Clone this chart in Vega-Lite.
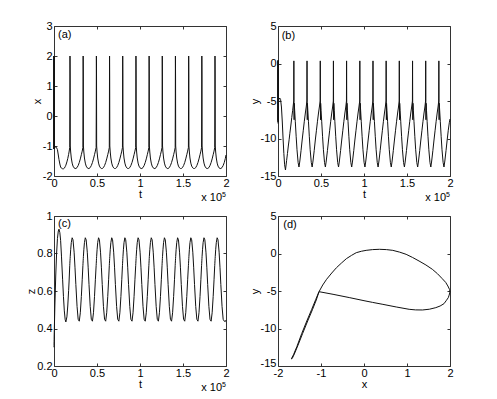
{
"$schema":"https://vega.github.io/schema/vega-lite/v6.json",
"padding":{"left":25,"top":19,"right":0,"bottom":0},
"background":"white",
"config":{
 "font":"Liberation Sans",
 "view":{"stroke":"#333","strokeWidth":1},
 "axis":{"grid":false,"domain":false,"ticks":true,"tickSize":-3,"tickColor":"#333","tickWidth":1,"labelPadding":5,"labelFontSize":11,"labelColor":"#000","labelFont":"Liberation Sans","titleFont":"Liberation Sans","titleFontSize":11,"titleFontWeight":"normal","titleColor":"#000","titlePadding":3,"labelFlush":false,"labelOverlap":false},
 "axisX":{"labelPadding":4,"titlePadding":0},
 "axisY":{"titlePadding":0},
 "text":{"font":"Liberation Sans","fontSize":11,"color":"#000"}
},
"datasets":{
"ts":[
{"t":0,"x":-1.1,"y":-8,"z":0.3},
{"t":0.0005,"x":2,"y":0.4,"z":0.31},
{"t":0.001,"x":-1.1,"y":-7.8,"z":0.33},
{"t":0.0015,"x":2,"y":0.4,"z":0.34},
{"t":0.002,"x":-1.1,"y":-7.6,"z":0.36},
{"t":0.0025,"x":2,"y":0.4,"z":0.37},
{"t":0.003,"x":-1.1,"y":-7.5,"z":0.38},
{"t":0.0035,"x":2,"y":0.3,"z":0.39},
{"t":0.004,"x":-1.05,"y":-5.5,"z":0.4},
{"t":0.006,"x":-1.05,"y":-5,"z":0.44},
{"t":0.01,"x":-1.05,"y":-4.8,"z":0.52},
{"t":0.02,"x":-1.03,"y":-4.6,"z":0.68},
{"t":0.03,"x":-1.06,"y":-4.8,"z":0.8},
{"t":0.04,"x":-1.12,"y":-5.8,"z":0.88},
{"t":0.05,"x":-1.3,"y":-7.8,"z":0.92},
{"t":0.058,"x":-1.45,"y":-9.8,"z":0.93},
{"t":0.068,"x":-1.6,"y":-12,"z":0.911},
{"t":0.077,"x":-1.7,"y":-13.5,"z":0.87},
{"t":0.087,"x":-1.74,"y":-14.2,"z":0.786},
{"t":0.1,"x":-1.76,"y":-12.95,"z":0.663},
{"t":0.11,"x":-1.76,"y":-12,"z":0.57},
{"t":0.12,"x":-1.74,"y":-11,"z":0.494},
{"t":0.13,"x":-1.69,"y":-10.1,"z":0.447},
{"t":0.138,"x":-1.64,"y":-9.3,"z":0.435},
{"t":0.15,"x":-1.53,"y":-8.2,"z":0.462},
{"t":0.16,"x":-1.42,"y":-7.2,"z":0.52},
{"t":0.17,"x":-1.28,"y":-6.3,"z":0.602},
{"t":0.175,"x":-1.2,"y":-5.8,"z":0.648},
{"t":0.183,"x":-1.05,"y":-5,"z":0.735},
{"t":0.1845,"x":0.3,"y":0.35,"z":0.748},
{"t":0.186,"x":2,"y":-5,"z":0.761},
{"t":0.1875,"x":1.3,"y":-7.5,"z":0.773},
{"t":0.189,"x":-1,"y":-5.3,"z":0.785},
{"t":0.194,"x":-1.2,"y":-6.3,"z":0.82},
{"t":0.201,"x":-1.4,"y":-7.7,"z":0.858},
{"t":0.211,"x":-1.57,"y":-9.7,"z":0.884},
{"t":0.221,"x":-1.67,"y":-11.5,"z":0.873},
{"t":0.234,"x":-1.73,"y":-13.2,"z":0.807},
{"t":0.244,"x":-1.75,"y":-13.8,"z":0.727},
{"t":0.254,"x":-1.75,"y":-13,"z":0.635},
{"t":0.268,"x":-1.72,"y":-11.6,"z":0.518},
{"t":0.281,"x":-1.65,"y":-10.2,"z":0.449},
{"t":0.294,"x":-1.55,"y":-8.9,"z":0.439},
{"t":0.306,"x":-1.43,"y":-7.7,"z":0.484},
{"t":0.318,"x":-1.29,"y":-6.6,"z":0.571},
{"t":0.328,"x":-1.17,"y":-5.8,"z":0.66},
{"t":0.336,"x":-1.05,"y":-5,"z":0.735},
{"t":0.3375,"x":0.3,"y":0.35,"z":0.748},
{"t":0.339,"x":2,"y":-5,"z":0.761},
{"t":0.3405,"x":1.3,"y":-7.5,"z":0.773},
{"t":0.342,"x":-1,"y":-5.3,"z":0.785},
{"t":0.347,"x":-1.2,"y":-6.3,"z":0.82},
{"t":0.354,"x":-1.4,"y":-7.7,"z":0.858},
{"t":0.364,"x":-1.57,"y":-9.7,"z":0.884},
{"t":0.374,"x":-1.67,"y":-11.5,"z":0.873},
{"t":0.387,"x":-1.73,"y":-13.2,"z":0.807},
{"t":0.397,"x":-1.75,"y":-13.8,"z":0.727},
{"t":0.407,"x":-1.75,"y":-13,"z":0.635},
{"t":0.421,"x":-1.72,"y":-11.6,"z":0.518},
{"t":0.434,"x":-1.65,"y":-10.2,"z":0.449},
{"t":0.447,"x":-1.55,"y":-8.9,"z":0.439},
{"t":0.459,"x":-1.43,"y":-7.7,"z":0.484},
{"t":0.471,"x":-1.29,"y":-6.6,"z":0.571},
{"t":0.481,"x":-1.17,"y":-5.8,"z":0.66},
{"t":0.49,"x":-1.05,"y":-5,"z":0.735},
{"t":0.4915,"x":0.3,"y":0.35,"z":0.748},
{"t":0.493,"x":2,"y":-5,"z":0.761},
{"t":0.4945,"x":1.3,"y":-7.5,"z":0.773},
{"t":0.496,"x":-1,"y":-5.3,"z":0.785},
{"t":0.501,"x":-1.2,"y":-6.3,"z":0.82},
{"t":0.508,"x":-1.4,"y":-7.7,"z":0.858},
{"t":0.518,"x":-1.57,"y":-9.7,"z":0.884},
{"t":0.528,"x":-1.67,"y":-11.5,"z":0.873},
{"t":0.541,"x":-1.73,"y":-13.2,"z":0.807},
{"t":0.551,"x":-1.75,"y":-13.8,"z":0.727},
{"t":0.561,"x":-1.75,"y":-13,"z":0.635},
{"t":0.575,"x":-1.72,"y":-11.6,"z":0.518},
{"t":0.588,"x":-1.65,"y":-10.2,"z":0.449},
{"t":0.601,"x":-1.55,"y":-8.9,"z":0.439},
{"t":0.613,"x":-1.43,"y":-7.7,"z":0.484},
{"t":0.625,"x":-1.29,"y":-6.6,"z":0.571},
{"t":0.635,"x":-1.17,"y":-5.8,"z":0.66},
{"t":0.643,"x":-1.05,"y":-5,"z":0.735},
{"t":0.6445,"x":0.3,"y":0.35,"z":0.748},
{"t":0.646,"x":2,"y":-5,"z":0.761},
{"t":0.6475,"x":1.3,"y":-7.5,"z":0.773},
{"t":0.649,"x":-1,"y":-5.3,"z":0.785},
{"t":0.654,"x":-1.2,"y":-6.3,"z":0.82},
{"t":0.661,"x":-1.4,"y":-7.7,"z":0.858},
{"t":0.671,"x":-1.57,"y":-9.7,"z":0.884},
{"t":0.681,"x":-1.67,"y":-11.5,"z":0.873},
{"t":0.694,"x":-1.73,"y":-13.2,"z":0.807},
{"t":0.704,"x":-1.75,"y":-13.8,"z":0.727},
{"t":0.714,"x":-1.75,"y":-13,"z":0.635},
{"t":0.728,"x":-1.72,"y":-11.6,"z":0.518},
{"t":0.741,"x":-1.65,"y":-10.2,"z":0.449},
{"t":0.754,"x":-1.55,"y":-8.9,"z":0.439},
{"t":0.766,"x":-1.43,"y":-7.7,"z":0.484},
{"t":0.778,"x":-1.29,"y":-6.6,"z":0.571},
{"t":0.788,"x":-1.17,"y":-5.8,"z":0.66},
{"t":0.796,"x":-1.05,"y":-5,"z":0.735},
{"t":0.7975,"x":0.3,"y":0.35,"z":0.748},
{"t":0.799,"x":2,"y":-5,"z":0.761},
{"t":0.8005,"x":1.3,"y":-7.5,"z":0.773},
{"t":0.802,"x":-1,"y":-5.3,"z":0.785},
{"t":0.807,"x":-1.2,"y":-6.3,"z":0.82},
{"t":0.814,"x":-1.4,"y":-7.7,"z":0.858},
{"t":0.824,"x":-1.57,"y":-9.7,"z":0.884},
{"t":0.834,"x":-1.67,"y":-11.5,"z":0.873},
{"t":0.847,"x":-1.73,"y":-13.2,"z":0.807},
{"t":0.857,"x":-1.75,"y":-13.8,"z":0.727},
{"t":0.867,"x":-1.75,"y":-13,"z":0.635},
{"t":0.881,"x":-1.72,"y":-11.6,"z":0.518},
{"t":0.894,"x":-1.65,"y":-10.2,"z":0.449},
{"t":0.907,"x":-1.55,"y":-8.9,"z":0.439},
{"t":0.919,"x":-1.43,"y":-7.7,"z":0.484},
{"t":0.931,"x":-1.29,"y":-6.6,"z":0.571},
{"t":0.941,"x":-1.17,"y":-5.8,"z":0.66},
{"t":0.95,"x":-1.05,"y":-5,"z":0.735},
{"t":0.9515,"x":0.3,"y":0.35,"z":0.748},
{"t":0.953,"x":2,"y":-5,"z":0.761},
{"t":0.9545,"x":1.3,"y":-7.5,"z":0.773},
{"t":0.956,"x":-1,"y":-5.3,"z":0.785},
{"t":0.961,"x":-1.2,"y":-6.3,"z":0.82},
{"t":0.968,"x":-1.4,"y":-7.7,"z":0.858},
{"t":0.978,"x":-1.57,"y":-9.7,"z":0.884},
{"t":0.988,"x":-1.67,"y":-11.5,"z":0.873},
{"t":1.001,"x":-1.73,"y":-13.2,"z":0.807},
{"t":1.011,"x":-1.75,"y":-13.8,"z":0.727},
{"t":1.021,"x":-1.75,"y":-13,"z":0.635},
{"t":1.035,"x":-1.72,"y":-11.6,"z":0.518},
{"t":1.048,"x":-1.65,"y":-10.2,"z":0.449},
{"t":1.061,"x":-1.55,"y":-8.9,"z":0.439},
{"t":1.073,"x":-1.43,"y":-7.7,"z":0.484},
{"t":1.085,"x":-1.29,"y":-6.6,"z":0.571},
{"t":1.095,"x":-1.17,"y":-5.8,"z":0.66},
{"t":1.103,"x":-1.05,"y":-5,"z":0.735},
{"t":1.1045,"x":0.3,"y":0.35,"z":0.748},
{"t":1.106,"x":2,"y":-5,"z":0.761},
{"t":1.1075,"x":1.3,"y":-7.5,"z":0.773},
{"t":1.109,"x":-1,"y":-5.3,"z":0.785},
{"t":1.114,"x":-1.2,"y":-6.3,"z":0.82},
{"t":1.121,"x":-1.4,"y":-7.7,"z":0.858},
{"t":1.131,"x":-1.57,"y":-9.7,"z":0.884},
{"t":1.141,"x":-1.67,"y":-11.5,"z":0.873},
{"t":1.154,"x":-1.73,"y":-13.2,"z":0.807},
{"t":1.164,"x":-1.75,"y":-13.8,"z":0.727},
{"t":1.174,"x":-1.75,"y":-13,"z":0.635},
{"t":1.188,"x":-1.72,"y":-11.6,"z":0.518},
{"t":1.201,"x":-1.65,"y":-10.2,"z":0.449},
{"t":1.214,"x":-1.55,"y":-8.9,"z":0.439},
{"t":1.226,"x":-1.43,"y":-7.7,"z":0.484},
{"t":1.238,"x":-1.29,"y":-6.6,"z":0.571},
{"t":1.248,"x":-1.17,"y":-5.8,"z":0.66},
{"t":1.256,"x":-1.05,"y":-5,"z":0.735},
{"t":1.2575,"x":0.3,"y":0.35,"z":0.748},
{"t":1.259,"x":2,"y":-5,"z":0.761},
{"t":1.2605,"x":1.3,"y":-7.5,"z":0.773},
{"t":1.262,"x":-1,"y":-5.3,"z":0.785},
{"t":1.267,"x":-1.2,"y":-6.3,"z":0.82},
{"t":1.274,"x":-1.4,"y":-7.7,"z":0.858},
{"t":1.284,"x":-1.57,"y":-9.7,"z":0.884},
{"t":1.294,"x":-1.67,"y":-11.5,"z":0.873},
{"t":1.307,"x":-1.73,"y":-13.2,"z":0.807},
{"t":1.317,"x":-1.75,"y":-13.8,"z":0.727},
{"t":1.327,"x":-1.75,"y":-13,"z":0.635},
{"t":1.341,"x":-1.72,"y":-11.6,"z":0.518},
{"t":1.354,"x":-1.65,"y":-10.2,"z":0.449},
{"t":1.367,"x":-1.55,"y":-8.9,"z":0.439},
{"t":1.379,"x":-1.43,"y":-7.7,"z":0.484},
{"t":1.391,"x":-1.29,"y":-6.6,"z":0.571},
{"t":1.401,"x":-1.17,"y":-5.8,"z":0.66},
{"t":1.409,"x":-1.05,"y":-5,"z":0.735},
{"t":1.4105,"x":0.3,"y":0.35,"z":0.748},
{"t":1.412,"x":2,"y":-5,"z":0.761},
{"t":1.4135,"x":1.3,"y":-7.5,"z":0.773},
{"t":1.415,"x":-1,"y":-5.3,"z":0.785},
{"t":1.42,"x":-1.2,"y":-6.3,"z":0.82},
{"t":1.427,"x":-1.4,"y":-7.7,"z":0.858},
{"t":1.437,"x":-1.57,"y":-9.7,"z":0.884},
{"t":1.447,"x":-1.67,"y":-11.5,"z":0.873},
{"t":1.46,"x":-1.73,"y":-13.2,"z":0.807},
{"t":1.47,"x":-1.75,"y":-13.8,"z":0.727},
{"t":1.48,"x":-1.75,"y":-13,"z":0.635},
{"t":1.494,"x":-1.72,"y":-11.6,"z":0.518},
{"t":1.507,"x":-1.65,"y":-10.2,"z":0.449},
{"t":1.52,"x":-1.55,"y":-8.9,"z":0.439},
{"t":1.532,"x":-1.43,"y":-7.7,"z":0.484},
{"t":1.544,"x":-1.29,"y":-6.6,"z":0.571},
{"t":1.554,"x":-1.17,"y":-5.8,"z":0.66},
{"t":1.563,"x":-1.05,"y":-5,"z":0.735},
{"t":1.5645,"x":0.3,"y":0.35,"z":0.748},
{"t":1.566,"x":2,"y":-5,"z":0.761},
{"t":1.5675,"x":1.3,"y":-7.5,"z":0.773},
{"t":1.569,"x":-1,"y":-5.3,"z":0.785},
{"t":1.574,"x":-1.2,"y":-6.3,"z":0.82},
{"t":1.581,"x":-1.4,"y":-7.7,"z":0.858},
{"t":1.591,"x":-1.57,"y":-9.7,"z":0.884},
{"t":1.601,"x":-1.67,"y":-11.5,"z":0.873},
{"t":1.614,"x":-1.73,"y":-13.2,"z":0.807},
{"t":1.624,"x":-1.75,"y":-13.8,"z":0.727},
{"t":1.634,"x":-1.75,"y":-13,"z":0.635},
{"t":1.648,"x":-1.72,"y":-11.6,"z":0.518},
{"t":1.661,"x":-1.65,"y":-10.2,"z":0.449},
{"t":1.674,"x":-1.55,"y":-8.9,"z":0.439},
{"t":1.686,"x":-1.43,"y":-7.7,"z":0.484},
{"t":1.698,"x":-1.29,"y":-6.6,"z":0.571},
{"t":1.708,"x":-1.17,"y":-5.8,"z":0.66},
{"t":1.716,"x":-1.05,"y":-5,"z":0.735},
{"t":1.7175,"x":0.3,"y":0.35,"z":0.748},
{"t":1.719,"x":2,"y":-5,"z":0.761},
{"t":1.7205,"x":1.3,"y":-7.5,"z":0.773},
{"t":1.722,"x":-1,"y":-5.3,"z":0.785},
{"t":1.727,"x":-1.2,"y":-6.3,"z":0.82},
{"t":1.734,"x":-1.4,"y":-7.7,"z":0.858},
{"t":1.744,"x":-1.57,"y":-9.7,"z":0.884},
{"t":1.754,"x":-1.67,"y":-11.5,"z":0.873},
{"t":1.767,"x":-1.73,"y":-13.2,"z":0.807},
{"t":1.777,"x":-1.75,"y":-13.8,"z":0.727},
{"t":1.787,"x":-1.75,"y":-13,"z":0.635},
{"t":1.801,"x":-1.72,"y":-11.6,"z":0.518},
{"t":1.814,"x":-1.65,"y":-10.2,"z":0.449},
{"t":1.827,"x":-1.55,"y":-8.9,"z":0.439},
{"t":1.839,"x":-1.43,"y":-7.7,"z":0.484},
{"t":1.851,"x":-1.29,"y":-6.6,"z":0.571},
{"t":1.861,"x":-1.17,"y":-5.8,"z":0.66},
{"t":1.869,"x":-1.05,"y":-5,"z":0.735},
{"t":1.8705,"x":0.3,"y":0.35,"z":0.748},
{"t":1.872,"x":2,"y":-5,"z":0.761},
{"t":1.8735,"x":1.3,"y":-7.5,"z":0.773},
{"t":1.875,"x":-1,"y":-5.3,"z":0.785},
{"t":1.88,"x":-1.2,"y":-6.3,"z":0.82},
{"t":1.887,"x":-1.4,"y":-7.7,"z":0.858},
{"t":1.897,"x":-1.57,"y":-9.7,"z":0.884},
{"t":1.907,"x":-1.67,"y":-11.5,"z":0.873},
{"t":1.92,"x":-1.73,"y":-13.2,"z":0.807},
{"t":1.93,"x":-1.75,"y":-13.8,"z":0.727},
{"t":1.94,"x":-1.75,"y":-13,"z":0.635},
{"t":1.954,"x":-1.72,"y":-11.6,"z":0.518},
{"t":1.967,"x":-1.65,"y":-10.2,"z":0.449},
{"t":1.98,"x":-1.55,"y":-8.9,"z":0.439},
{"t":1.992,"x":-1.42,"y":-7.9,"z":0.437},
{"t":2,"x":-1.3,"y":-7.4,"z":0.445}
],
"orb":[
{"i":0,"x":-1.046,"y":-5.09},
{"i":1,"x":-0.96,"y":-4.2},
{"i":2,"x":-0.87,"y":-3.44},
{"i":3,"x":-0.75,"y":-2.6},
{"i":4,"x":-0.64,"y":-1.89},
{"i":5,"x":-0.52,"y":-1.25},
{"i":6,"x":-0.41,"y":-0.69},
{"i":7,"x":-0.29,"y":-0.25},
{"i":8,"x":-0.18,"y":0.11},
{"i":9,"x":-0.06,"y":0.3},
{"i":10,"x":0.05,"y":0.42},
{"i":11,"x":0.2,"y":0.52},
{"i":12,"x":0.36,"y":0.56},
{"i":13,"x":0.52,"y":0.52},
{"i":14,"x":0.67,"y":0.42},
{"i":15,"x":0.83,"y":0.18},
{"i":16,"x":0.98,"y":-0.11},
{"i":17,"x":1.13,"y":-0.53},
{"i":18,"x":1.28,"y":-1},
{"i":19,"x":1.44,"y":-1.53},
{"i":20,"x":1.59,"y":-2.11},
{"i":21,"x":1.71,"y":-2.7},
{"i":22,"x":1.82,"y":-3.36},
{"i":23,"x":1.9,"y":-3.85},
{"i":24,"x":1.95,"y":-4.33},
{"i":25,"x":1.99,"y":-4.8},
{"i":26,"x":2,"y":-5.13},
{"i":27,"x":1.98,"y":-5.55},
{"i":28,"x":1.96,"y":-5.89},
{"i":29,"x":1.91,"y":-6.3},
{"i":30,"x":1.86,"y":-6.69},
{"i":31,"x":1.77,"y":-7},
{"i":32,"x":1.67,"y":-7.22},
{"i":33,"x":1.52,"y":-7.43},
{"i":34,"x":1.36,"y":-7.53},
{"i":35,"x":1.2,"y":-7.52},
{"i":36,"x":1.05,"y":-7.44},
{"i":37,"x":0.75,"y":-7.13},
{"i":38,"x":0.44,"y":-6.78},
{"i":39,"x":0.2,"y":-6.52},
{"i":40,"x":0,"y":-6.29},
{"i":41,"x":-0.33,"y":-5.89},
{"i":42,"x":-0.72,"y":-5.44},
{"i":43,"x":-1.046,"y":-5.09},
{"i":44,"x":-1.12,"y":-6.1},
{"i":45,"x":-1.22,"y":-7.5},
{"i":46,"x":-1.33,"y":-9},
{"i":47,"x":-1.45,"y":-10.7},
{"i":48,"x":-1.56,"y":-12.4},
{"i":49,"x":-1.64,"y":-13.5},
{"i":50,"x":-1.69,"y":-14.05},
{"i":51,"x":-1.67,"y":-14},
{"i":52,"x":-1.62,"y":-13.4},
{"i":53,"x":-1.54,"y":-12.3},
{"i":54,"x":-1.43,"y":-10.7},
{"i":55,"x":-1.31,"y":-9},
{"i":56,"x":-1.2,"y":-7.5},
{"i":57,"x":-1.11,"y":-6.2},
{"i":58,"x":-1.046,"y":-5.09}
]
},
"columns":2,
"spacing":{"row":40,"column":52},
"bounds":"flush",
"concat":[
{
 "width":172,"height":150,
 "layer":[
  {"data":{"name":"ts"},"mark":{"type":"line","color":"#111","strokeWidth":1},
   "encoding":{
    "x":{"field":"t","type":"quantitative","scale":{"domain":[0,2],"nice":false,"zero":false},"axis":{"orient":"bottom","title":"t","values":[0,0.5,1,1.5,2],"labelExpr":"replace(format(datum.value,'~g'),'\u2212','-')"}},
    "y":{"field":"x","type":"quantitative","scale":{"domain":[-2,3],"nice":false,"zero":false},"axis":{"orient":"left","title":"x","values":[-2,-1,0,1,2,3],"labelExpr":"replace(format(datum.value,'~g'),'\u2212','-')"}}}},
  {"data":{"values":[{}]},"mark":{"type":"text","text":"(a)","align":"left","baseline":"middle"},
   "encoding":{
    "x":{"datum":0.047,"type":"quantitative","axis":{"orient":"top","labels":false,"title":null,"values":[0,0.5,1,1.5,2]}},
    "y":{"datum":2.71,"type":"quantitative","axis":{"orient":"right","labels":false,"title":null,"values":[-2,-1,0,1,2,3]}}}},
  {"data":{"values":[{}]},"mark":{"type":"text","text":"x 10","align":"right","baseline":"middle","dx":-4,"dy":22},
   "encoding":{"x":{"datum":2,"type":"quantitative","axis":null},"y":{"datum":-2,"type":"quantitative","axis":null}}},
  {"data":{"values":[{}]},"mark":{"type":"text","text":"5","align":"left","baseline":"middle","dx":-4,"dy":19,"fontSize":7},
   "encoding":{"x":{"datum":2,"type":"quantitative","axis":null},"y":{"datum":-2,"type":"quantitative","axis":null}}}
 ],
 "resolve":{"axis":{"x":"independent","y":"independent"}}
},
{
 "width":172,"height":150,
 "layer":[
  {"data":{"name":"ts"},"mark":{"type":"line","color":"#111","strokeWidth":1},
   "encoding":{
    "x":{"field":"t","type":"quantitative","scale":{"domain":[0,2],"nice":false,"zero":false},"axis":{"orient":"bottom","title":"t","values":[0,0.5,1,1.5,2],"labelExpr":"replace(format(datum.value,'~g'),'\u2212','-')"}},
    "y":{"field":"y","type":"quantitative","scale":{"domain":[-15,5],"nice":false,"zero":false},"axis":{"orient":"left","title":"y","values":[-15,-10,-5,0,5],"labelExpr":"replace(format(datum.value,'~g'),'\u2212','-')"}}}},
  {"data":{"values":[{}]},"mark":{"type":"text","text":"(b)","align":"left","baseline":"middle"},
   "encoding":{
    "x":{"datum":0.043,"type":"quantitative","axis":{"orient":"top","labels":false,"title":null,"values":[0,0.5,1,1.5,2]}},
    "y":{"datum":3.63,"type":"quantitative","axis":{"orient":"right","labels":false,"title":null,"values":[-15,-10,-5,0,5]}}}},
  {"data":{"values":[{}]},"mark":{"type":"text","text":"x 10","align":"right","baseline":"middle","dx":-4,"dy":22},
   "encoding":{"x":{"datum":2,"type":"quantitative","axis":null},"y":{"datum":-15,"type":"quantitative","axis":null}}},
  {"data":{"values":[{}]},"mark":{"type":"text","text":"5","align":"left","baseline":"middle","dx":-4,"dy":19,"fontSize":7},
   "encoding":{"x":{"datum":2,"type":"quantitative","axis":null},"y":{"datum":-15,"type":"quantitative","axis":null}}}
 ],
 "resolve":{"axis":{"x":"independent","y":"independent"}}
},
{
 "width":172,"height":150,
 "layer":[
  {"data":{"name":"ts"},"mark":{"type":"line","color":"#111","strokeWidth":1},
   "encoding":{
    "x":{"field":"t","type":"quantitative","scale":{"domain":[0,2],"nice":false,"zero":false},"axis":{"orient":"bottom","title":"t","values":[0,0.5,1,1.5,2],"labelExpr":"replace(format(datum.value,'~g'),'\u2212','-')"}},
    "y":{"field":"z","type":"quantitative","scale":{"domain":[0.2,1],"nice":false,"zero":false},"axis":{"orient":"left","title":"z","values":[0.2,0.4,0.6,0.8,1],"labelExpr":"format(datum.value,'~g')"}}}},
  {"data":{"values":[{}]},"mark":{"type":"text","text":"(c)","align":"left","baseline":"middle"},
   "encoding":{
    "x":{"datum":0.047,"type":"quantitative","axis":{"orient":"top","labels":false,"title":null,"values":[0,0.5,1,1.5,2]}},
    "y":{"datum":0.956,"type":"quantitative","axis":{"orient":"right","labels":false,"title":null,"values":[0.2,0.4,0.6,0.8,1]}}}},
  {"data":{"values":[{}]},"mark":{"type":"text","text":"x 10","align":"right","baseline":"middle","dx":-4,"dy":22},
   "encoding":{"x":{"datum":2,"type":"quantitative","axis":null},"y":{"datum":0.2,"type":"quantitative","axis":null}}},
  {"data":{"values":[{}]},"mark":{"type":"text","text":"5","align":"left","baseline":"middle","dx":-4,"dy":19,"fontSize":7},
   "encoding":{"x":{"datum":2,"type":"quantitative","axis":null},"y":{"datum":0.2,"type":"quantitative","axis":null}}}
 ],
 "resolve":{"axis":{"x":"independent","y":"independent"}}
},
{
 "width":172,"height":150,
 "layer":[
  {"data":{"name":"orb"},"mark":{"type":"line","color":"#111","strokeWidth":1},
   "encoding":{
    "x":{"field":"x","type":"quantitative","scale":{"domain":[-2,2],"nice":false,"zero":false},"axis":{"orient":"bottom","title":"x","values":[-2,-1,0,1,2],"labelExpr":"replace(format(datum.value,'~g'),'\u2212','-')"}},
    "y":{"field":"y","type":"quantitative","scale":{"domain":[-15,5],"nice":false,"zero":false},"axis":{"orient":"left","title":"y","values":[-15,-10,-5,0,5],"labelExpr":"replace(format(datum.value,'~g'),'\u2212','-')","labelOffset":{"condition":{"test":"datum.value == -15","value":-3},"value":0}}},
    "order":{"field":"i","type":"quantitative"}}},
  {"data":{"values":[{}]},"mark":{"type":"text","text":"(d)","align":"left","baseline":"middle"},
   "encoding":{
    "x":{"datum":-1.877,"type":"quantitative","axis":{"orient":"top","labels":false,"title":null,"values":[-2,-1,0,1,2]}},
    "y":{"datum":3.75,"type":"quantitative","axis":{"orient":"right","labels":false,"title":null,"values":[-15,-10,-5,0,5]}}}}
 ],
 "resolve":{"axis":{"x":"independent","y":"independent"}}
}
]
}
